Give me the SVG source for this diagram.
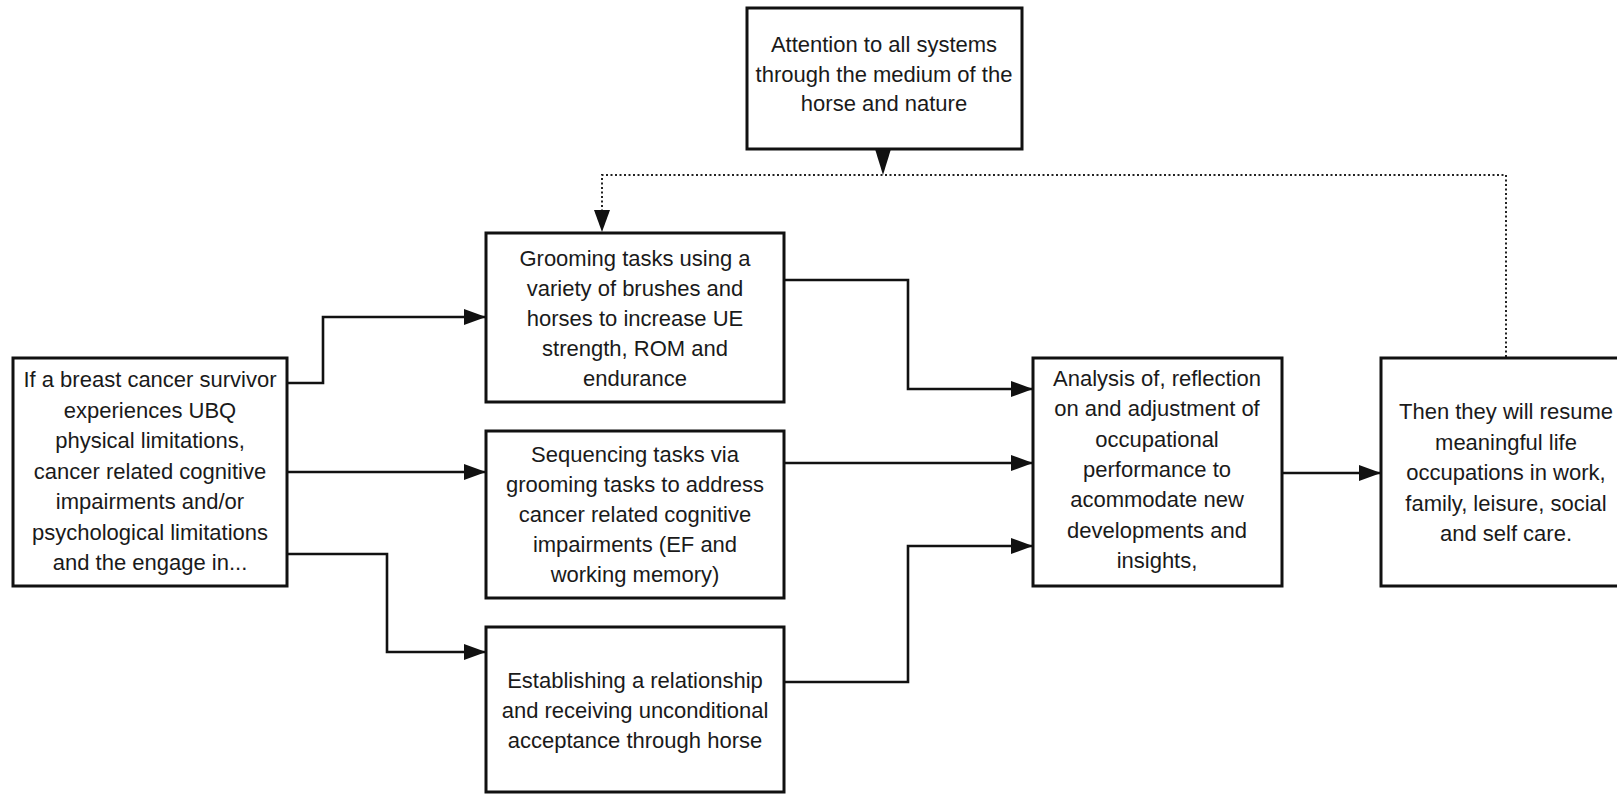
<svg xmlns="http://www.w3.org/2000/svg" width="1617" height="794" viewBox="0 0 1617 794">
<style>
.box{fill:#fff;stroke:#111;stroke-width:3}
.t{font-family:"Liberation Sans",Arial,sans-serif;font-size:22px;fill:#1a1a1a;text-anchor:middle}
.ln{fill:none;stroke:#111;stroke-width:2.6}
.dot{fill:none;stroke:#222;stroke-width:2;stroke-dasharray:2 2.5}
</style>
<defs>
<marker id="arr" markerUnits="userSpaceOnUse" markerWidth="22" markerHeight="16" refX="21" refY="8" orient="auto">
<path d="M0,0 L22,8 L0,16 z" fill="#111"/>
</marker>
</defs>
<rect width="1617" height="794" fill="#fff"/>
<g id="connectors">
<path class="ln" d="M287,383 H323 V317 H485" marker-end="url(#arr)"/>
<path class="ln" d="M287,472 H485" marker-end="url(#arr)"/>
<path class="ln" d="M287,554 H387 V652 H485" marker-end="url(#arr)"/>
<path class="ln" d="M784,280 H908 V389 H1032" marker-end="url(#arr)"/>
<path class="ln" d="M784,463 H1032" marker-end="url(#arr)"/>
<path class="ln" d="M784,682 H908 V546 H1032" marker-end="url(#arr)"/>
<path class="ln" d="M1282,473 H1380" marker-end="url(#arr)"/>
<path class="dot" d="M1506,357 V175 H602 V212"/>
<polygon points="594,210 610,210 602,232" fill="#111"/>
<polygon points="875,149 891,149 883,175" fill="#111"/>
</g>
<g id="n-attention">
<rect class="box" x="747" y="8" width="275" height="141"/>
<text class="t" x="884" y="52">Attention to all systems</text>
<text class="t" x="884" y="82">through the medium of the</text>
<text class="t" x="884" y="111">horse and nature</text>
</g>
<g id="n-survivor">
<rect class="box" x="13" y="358" width="274" height="228"/>
<text class="t" x="150" y="387">If a breast cancer survivor</text>
<text class="t" x="150" y="417.5">experiences UBQ</text>
<text class="t" x="150" y="448">physical limitations,</text>
<text class="t" x="150" y="478.5">cancer related cognitive</text>
<text class="t" x="150" y="509">impairments and/or</text>
<text class="t" x="150" y="539.5">psychological limitations</text>
<text class="t" x="150" y="570">and the engage in...</text>
</g>
<g id="n-grooming">
<rect class="box" x="486" y="233" width="298" height="169"/>
<text class="t" x="635" y="266">Grooming tasks using a</text>
<text class="t" x="635" y="296">variety of brushes and</text>
<text class="t" x="635" y="326">horses to increase UE</text>
<text class="t" x="635" y="356">strength, ROM and</text>
<text class="t" x="635" y="386">endurance</text>
</g>
<g id="n-sequencing">
<rect class="box" x="486" y="431" width="298" height="167"/>
<text class="t" x="635" y="462">Sequencing tasks via</text>
<text class="t" x="635" y="492">grooming tasks to address</text>
<text class="t" x="635" y="522">cancer related cognitive</text>
<text class="t" x="635" y="552">impairments (EF and</text>
<text class="t" x="635" y="582">working memory)</text>
</g>
<g id="n-relationship">
<rect class="box" x="486" y="627" width="298" height="165"/>
<text class="t" x="635" y="688">Establishing a relationship</text>
<text class="t" x="635" y="718">and receiving unconditional</text>
<text class="t" x="635" y="748">acceptance through horse</text>
</g>
<g id="n-analysis">
<rect class="box" x="1033" y="358" width="249" height="228"/>
<text class="t" x="1157" y="386">Analysis of, reflection</text>
<text class="t" x="1157" y="416">on and adjustment of</text>
<text class="t" x="1157" y="447">occupational</text>
<text class="t" x="1157" y="477">performance to</text>
<text class="t" x="1157" y="507">acommodate new</text>
<text class="t" x="1157" y="538">developments and</text>
<text class="t" x="1157" y="568">insights,</text>
</g>
<g id="n-resume">
<rect class="box" x="1381" y="358" width="250" height="228"/>
<text class="t" x="1506" y="419">Then they will resume</text>
<text class="t" x="1506" y="449.5">meaningful life</text>
<text class="t" x="1506" y="480">occupations in work,</text>
<text class="t" x="1506" y="510.5">family, leisure, social</text>
<text class="t" x="1506" y="541">and self care.</text>
</g>
</svg>
